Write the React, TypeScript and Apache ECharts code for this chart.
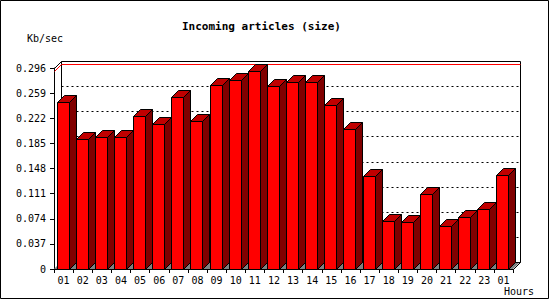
import { useEffect, useRef } from 'react';
import * as echarts from 'echarts';

const titleText = 'Incoming articles (size)';
const yAxisName = 'Kb/sec';
const xAxisName = 'Hours';
const hours = ['01', '02', '03', '04', '05', '06', '07', '08', '09', '10', '11', '12', '13', '14', '15', '16', '17', '18', '19', '20', '21', '22', '23', '01'];
const sizeKbSec = [0.246, 0.191, 0.194, 0.194, 0.226, 0.213, 0.253, 0.218, 0.271, 0.278, 0.292, 0.269, 0.275, 0.276, 0.241, 0.206, 0.137, 0.070, 0.069, 0.110, 0.064, 0.076, 0.088, 0.139];
const yMin = 0;
const yMax = 0.296;
const yInterval = 0.037;
const dashedGridValues = [0.037, 0.074, 0.111, 0.148, 0.185, 0.222, 0.259];
const maxValue = Math.max(...sizeKbSec);

const MONO = '"DejaVu Sans Mono", "Liberation Mono", monospace';
const D = 7;
const P = (n: number) => Math.round(n) + 0.5;

export default function App() {
  const ref = useRef<HTMLDivElement>(null);
  useEffect(() => {
    if (!ref.current) return;
    const chart = echarts.init(ref.current, undefined, { renderer: 'svg' });
    const option: any = {
      animation: false,
      backgroundColor: '#ffffff',
      title: {
        text: titleText,
        left: 182,
        top: 21,
        padding: 0,
        textStyle: { fontFamily: MONO, fontSize: 11, fontWeight: 'bold', color: '#000' },
      },
      grid: { left: 54, right: 37, top: 68, bottom: 31 },
      xAxis: {
        type: 'category',
        data: hours,
        boundaryGap: true,
        name: xAxisName,
        nameLocation: 'end',
        nameGap: -9,
        nameTextStyle: { fontFamily: MONO, fontSize: 10, color: '#000', verticalAlign: 'top', align: 'left', padding: [17, 0, 0, 0] },
        axisLine: { lineStyle: { color: '#000', width: 1 } },
        axisTick: { show: true, length: 4, lineStyle: { color: '#000' } },
        axisLabel: { fontFamily: MONO, fontSize: 10, color: '#000', margin: 6 },
        splitLine: { show: false },
      },
      yAxis: {
        type: 'value',
        min: yMin,
        max: yMax,
        interval: yInterval,
        name: yAxisName,
        nameLocation: 'end',
        nameGap: 25,
        nameTextStyle: { fontFamily: MONO, fontSize: 10, color: '#000', padding: [0, 18, 0, 0] },
        axisLine: { show: true, lineStyle: { color: '#000', width: 1 } },
        axisTick: { show: true, length: 4, lineStyle: { color: '#000' } },
        axisLabel: {
          fontFamily: MONO,
          fontSize: 10,
          color: '#000',
          margin: 8,
          formatter: (v: number) => (v === 0 ? '0' : v.toFixed(3)),
        },
        splitLine: { show: false },
      },
      graphic: [
        {
          type: 'rect',
          shape: { x: 0.5, y: 0.5, width: 548, height: 298 },
          style: { fill: 'none', stroke: '#000', lineWidth: 1 },
          silent: true,
        },
      ],
      series: [
        {
          type: 'custom',
          name: 'frame',
          z: 1,
          data: [[0, maxValue]],
          encode: { x: 0, y: 1 },
          renderItem: (params: any, api: any) => {
            const cs = params.coordSys;
            const l = cs.x;
            const r = cs.x + cs.width;
            const t = cs.y;
            const b = cs.y + cs.height;
            const ym = api.coord([0, api.value(1)])[1];
            const line = (x1: number, y1: number, x2: number, y2: number, color = '#000') => ({
              type: 'line',
              shape: { x1: P(x1), y1: P(y1), x2: P(x2), y2: P(y2) },
              style: { stroke: color, lineWidth: 1 },
            });
            return {
              type: 'group',
              children: [
                {
                  type: 'polygon',
                  shape: { points: [[l, b], [r, b], [r + D, b - D], [l + D, b - D]] },
                  style: { fill: '#808080' },
                },
                line(l + D, t - D, r + D, t - D),
                line(l + D, t - D, l + D, b - D),
                line(r + D, t - D, r + D, b - D),
                line(l, t, l + D, t - D),
                line(r, b, r + D, b - D),
                line(l + D, b - D, r + D, b - D),
                line(l, ym, l + D, ym - D, '#ff0000'),
                line(l + D, ym - D, r + D, ym - D, '#ff0000'),
              ],
            };
          },
        },
        {
          type: 'custom',
          name: 'grid',
          z: 2,
          data: dashedGridValues.map((v) => [0, v]),
          encode: { x: 0, y: 1 },
          renderItem: (params: any, api: any) => {
            const cs = params.coordSys;
            const y = api.coord([0, api.value(1)])[1];
            return {
              type: 'line',
              shape: { x1: P(cs.x + D), y1: P(y - D), x2: P(cs.x + cs.width + D), y2: P(y - D) },
              style: { stroke: '#000', lineWidth: 1, lineDash: [2, 3] },
            };
          },
        },
        {
          type: 'custom',
          name: 'Incoming articles',
          z: 3,
          data: sizeKbSec.map((v, i) => [i, v]),
          encode: { x: 0, y: 1 },
          renderItem: (params: any, api: any) => {
            const i = api.value(0);
            const v = api.value(1);
            const base = api.coord([i, 0]);
            const top = api.coord([i, v]);
            const bw = api.size([1, 0])[0];
            const X0 = P(base[0] - bw / 2 + 2.6);
            const X1 = X0 + 12;
            const Yb = P(base[1]);
            const Yt = P(top[1]);
            return {
              type: 'group',
              children: [
                {
                  type: 'polygon',
                  shape: { points: [[X1, Yb], [X1 + D, Yb - D], [X1 + D, Yt - D], [X1, Yt]] },
                  style: { fill: '#800000', stroke: '#000', lineWidth: 1 },
                },
                {
                  type: 'polygon',
                  shape: { points: [[X0, Yt], [X0 + D, Yt - D], [X1 + D, Yt - D], [X1, Yt]] },
                  style: { fill: '#c00000', stroke: '#000', lineWidth: 1 },
                },
                {
                  type: 'rect',
                  shape: { x: X0, y: Yt, width: X1 - X0, height: Yb - Yt },
                  style: { fill: '#ff0000', stroke: '#000', lineWidth: 1 },
                },
              ],
            };
          },
        },
      ],
    };
    chart.setOption(option);
    return () => chart.dispose();
  }, []);
  return (
    <div
      ref={ref}
      style={{ position: 'absolute', left: 0, top: 0, width: 550, height: 300, background: '#fff' }}
    />
  );
}
